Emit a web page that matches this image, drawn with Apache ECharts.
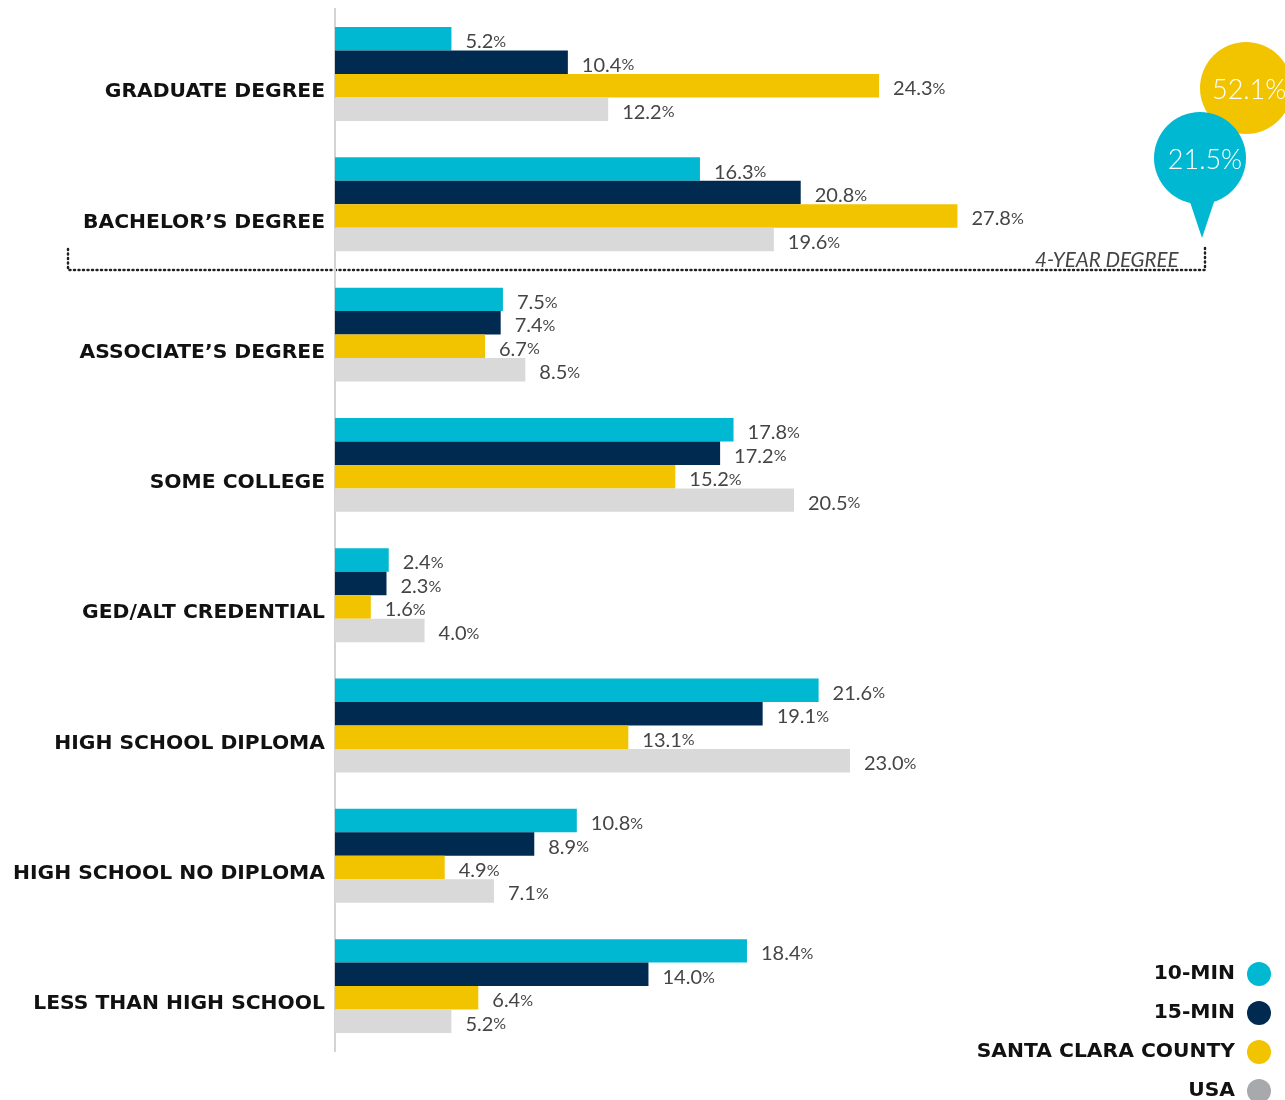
<!DOCTYPE html>
<html>
<head>
<meta charset="utf-8">
<script src="https://cdn.jsdelivr.net/npm/echarts@6/dist/echarts.min.js"></script>
<style>html,body{margin:0;padding:0;background:#fff;}#c{width:1285px;height:1100px;}</style>
</head>
<body>
<div id="c"></div>
<script>
const categories = ["GRADUATE DEGREE","BACHELOR\u2019S DEGREE","ASSOCIATE\u2019S DEGREE","SOME COLLEGE","GED/ALT CREDENTIAL","HIGH SCHOOL DIPLOMA","HIGH SCHOOL NO DIPLOMA","LESS THAN HIGH SCHOOL"];
const seriesNames = ["10-MIN","15-MIN","SANTA CLARA COUNTY","USA"];
const min10 = [5.2,16.3,7.5,17.8,2.4,21.6,10.8,18.4];
const min15 = [10.4,20.8,7.4,17.2,2.3,19.1,8.9,14.0];
const santaClara = [24.3,27.8,6.7,15.2,1.6,13.1,4.9,6.4];
const usa = [12.2,19.6,8.5,20.5,4.0,23.0,7.1,5.2];
const bubble4yr = {santaClara: "52.1", min10: "21.5"};
const bracketLabel = "4-YEAR DEGREE";

const colors = ["#00B8D1","#002A50","#F2C400","#D9D9D9"];
const legendColors = ["#00B8D1","#002A50","#F2C400","#A7A9AC"];
const allData = [min10, min15, santaClara, usa];

const chart = echarts.init(document.getElementById('c'));
const series = seriesNames.map((n,i)=>({
  name:n, type:'bar', data: allData[i],
  barGap: '0%', barCategoryGap: '27.9%',
  itemStyle:{color: colors[i]},
  label:{show:true, position:'right', distance:14, offset:[0,3],
    formatter: p => '{n|'+p.value.toFixed(1)+'}{p|%}',
    rich:{n:{fontFamily:'Lato',fontSize:20,color:'#454545'}, p:{fontFamily:'Lato',fontSize:16,color:'#454545'}}
  }
}));

const dotted = {stroke:'#222', lineWidth:2.5, lineDash:[1,3.5], lineCap:'round'};
const labelFont = {fontFamily:'DejaVu Sans', fontWeight:'bold', fontSize:20.3, color:'#111'};
chart.setOption({
  animation:false,
  grid:{left:335, top:8.85, width:895.6, height:1042.4},
  xAxis:{type:'value', min:0, max:40, show:false},
  yAxis:{type:'category', data:categories, inverse:true,
    axisLine:{show:true, lineStyle:{color:'#d3d3d3', width:2}},
    axisTick:{show:false},
    axisLabel:Object.assign({margin:10, verticalAlign:'top', lineHeight:36}, labelFont)
  },
  legend:{orient:'vertical', right:9, bottom:-8, align:'right', icon:'circle', itemWidth:24, itemHeight:24, itemGap:15,
    textStyle:Object.assign({padding:[0,7,0,0]}, labelFont),
    data: seriesNames.map((n,i)=>({name:n, itemStyle:{color:legendColors[i]}}))
  },
  series: series,
  graphic:[
    {type:'polyline', shape:{points:[[68,249],[68,270],[1205,270],[1205,246]]}, style:Object.assign({fill:null},dotted), silent:true},
    {type:'text', left:1035, top:250, style:{text:bracketLabel, fontFamily:'Lato', fontStyle:'italic', fontSize:20.5, fill:'#444'}},
    {type:'circle', shape:{cx:1246, cy:88, r:46}, style:{fill:'#F2C400'}},
    {type:'text', x:1212, y:90, style:{text:bubble4yr.santaClara+'%', fontFamily:'Lato', fontWeight:300, fontSize:27, fill:'#fff', verticalAlign:'middle'}},
    {type:'polygon', shape:{points:[[1188,196],[1216,196],[1202,238]]}, style:{fill:'#00B8D1'}},
    {type:'circle', shape:{cx:1200, cy:158, r:46}, style:{fill:'#00B8D1'}},
    {type:'text', x:1205, y:160, style:{text:bubble4yr.min10+'%', fontFamily:'Lato', fontWeight:300, fontSize:27, fill:'#fff', align:'center', verticalAlign:'middle'}}
  ]
});
</script>
</body>
</html>
